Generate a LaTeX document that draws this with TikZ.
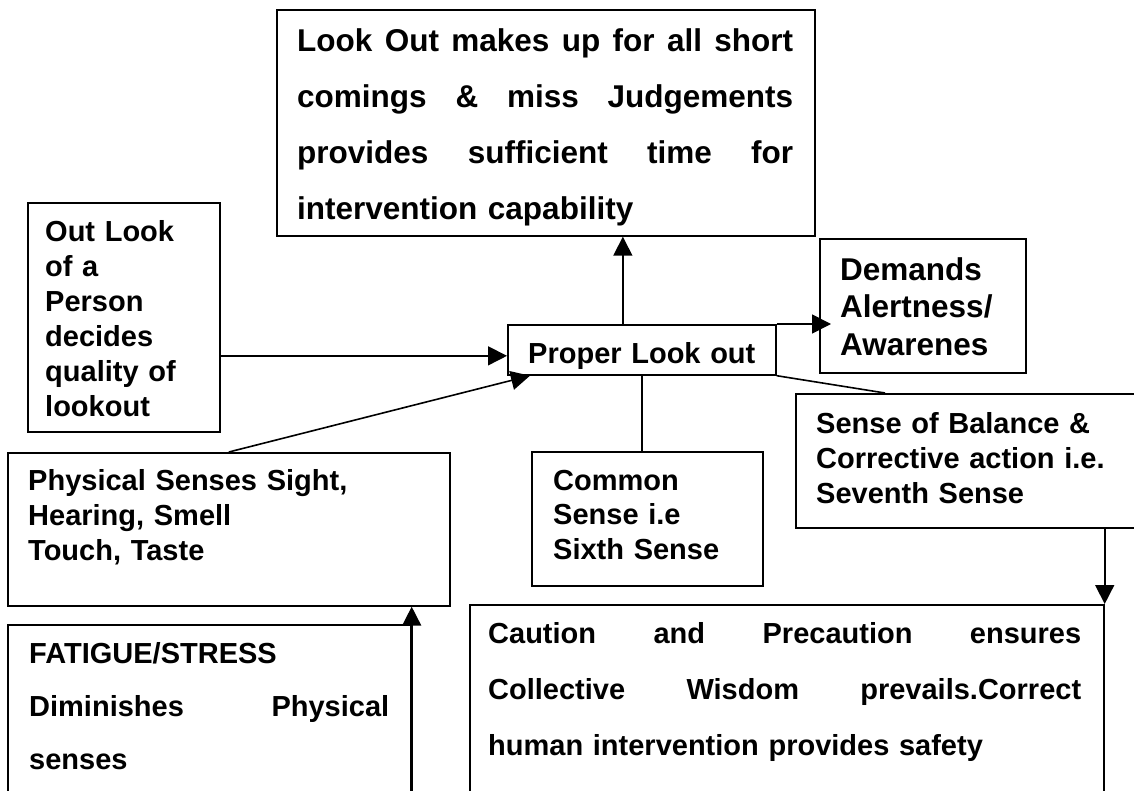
\documentclass[tikz,border=0pt]{standalone}
\usepackage{fontspec}
\setmainfont{Liberation Sans}
\usetikzlibrary{arrows.meta,calc}
\newcommand\jline[2]{\leavevmode\hbox to #1{#2}}
\begin{document}
\begin{tikzpicture}[x=1pt,y=-1pt,
  box/.style={draw, line width=1.7pt, inner sep=0pt, anchor=north west},
  txt/.style={anchor=base west, inner sep=0pt, align=left, text width=#1},
  txt/.default=600pt,
  conn/.style={line width=1.6pt},
  arr/.style={conn, -{Triangle[length=19pt,width=19pt]}}]
\clip (0,0) rectangle (1134,791);
% boxes
\node[box, minimum width=538pt, minimum height=226pt] (top) at (276,9) {};
\node[box, minimum width=192pt, minimum height=229pt] (outlook) at (27,202) {};
\node[box, minimum width=268pt, minimum height=50pt] (proper) at (507,324) {};
\node[box, minimum width=206pt, minimum height=134pt] (demands) at (819,238) {};
\node[box, minimum width=350pt, minimum height=134pt] (sense) at (795,393) {};
\node[box, minimum width=231pt, minimum height=134pt] (common) at (531,451) {};
\node[box, minimum width=442pt, minimum height=153pt] (phys) at (7,452) {};
\node[box, minimum width=403pt, minimum height=190pt] (fatigue) at (7,624) {};
\node[box, minimum width=634pt, minimum height=210pt] (caution) at (469,604) {};
% texts
\node[txt, font=\bfseries\fontsize{31.5}{56}\selectfont] (topT) at (297,52)
  {\jline{496pt}{Look\hfill Out\hfill makes\hfill up\hfill for\hfill all\hfill short}\\
   \jline{496pt}{comings\hfill \&\hfill miss\hfill Judgements}\\
   \jline{496pt}{provides\hfill sufficient\hfill time\hfill for}\\
   intervention capability};
\node[txt, font=\bfseries\fontsize{29}{35}\selectfont] (outlookT) at (45,242)
  {Out Look\\ of a\\ Person\\ decides\\ quality of\\ lookout};
\node[txt, font=\bfseries\fontsize{29}{35}\selectfont] (properT) at (528,363)
  {Proper Look out};
\node[txt, font=\bfseries\fontsize{31.5}{37}\selectfont] (demandsT) at (840,281)
  {Demands\\ Alertness/\\ Awarenes};
\node[txt, font=\bfseries\fontsize{29}{35}\selectfont] (senseT) at (816,433)
  {Sense of Balance \&\\ Corrective action i.e.\\ Seventh Sense};
\node[txt, font=\bfseries\fontsize{29}{34.5}\selectfont] (commonT) at (553,490)
  {Common\\ Sense i.e\\ Sixth Sense};
\node[txt, font=\bfseries\fontsize{29}{35}\selectfont] (physT) at (28,490)
  {Physical Senses Sight,\\ Hearing, Smell\\ Touch, Taste};
\node[txt, font=\bfseries\fontsize{29}{53}\selectfont] (fatigueT) at (29,663)
  {FATIGUE/STRESS\\
   \jline{360pt}{Diminishes\hfill Physical}\\
   senses};
\node[txt, font=\bfseries\fontsize{29}{56}\selectfont] (cautionT) at (488,643)
  {\jline{593pt}{Caution\hfill and\hfill Precaution\hfill ensures}\\
   \jline{593pt}{Collective\hfill Wisdom\hfill prevails.Correct}\\
   human intervention provides safety};
% connectors
\draw[arr] ([xshift=-19pt]proper.north) -- ([xshift=-19pt]proper.north |- top.south);
\draw[arr] ([yshift=-6pt]proper.west -| outlook.east) -- ([yshift=-6pt]proper.west);
\draw[arr] (phys.north) -- ($(proper.south west)+(23,0)$);
\draw[arr] (proper.north east) -- ($(proper.north east -| demands.west)+(12,0)$);
\draw[conn] (proper.south) -- (proper.south |- common.north);
\draw[conn] (proper.south east) -- ($(sense.north west)+(90,0)$);
\draw[arr] (caution.north east |- sense.south) -- (caution.north east);
\draw[arr] (fatigue.south east) -- (fatigue.south east |- phys.south);
\end{tikzpicture}
\end{document}
